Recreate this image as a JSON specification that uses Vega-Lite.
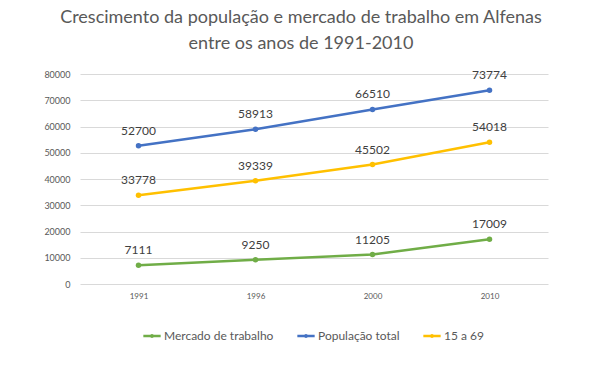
{
  "$schema": "https://vega.github.io/schema/vega-lite/v6.json",
  "width": 468,
  "height": 210,
  "autosize": "none",
  "padding": {"left": 80, "top": 74, "right": 54, "bottom": 83},
  "background": "white",
  "title": {
    "text": ["Crescimento da população e mercado de trabalho em Alfenas", "entre os anos de 1991-2010"],
    "font": "Lato",
    "fontSize": 18,
    "fontWeight": "normal",
    "color": "#595959",
    "anchor": "middle",
    "dx": -13,
    "offset": 16,
    "lineHeight": 26
  },
  "data": {
    "values": [
      {"ano": "1991", "serie": "Mercado de trabalho", "valor": 7111},
      {"ano": "1996", "serie": "Mercado de trabalho", "valor": 9250},
      {"ano": "2000", "serie": "Mercado de trabalho", "valor": 11205},
      {"ano": "2010", "serie": "Mercado de trabalho", "valor": 17009},
      {"ano": "1991", "serie": "População total", "valor": 52700},
      {"ano": "1996", "serie": "População total", "valor": 58913},
      {"ano": "2000", "serie": "População total", "valor": 66510},
      {"ano": "2010", "serie": "População total", "valor": 73774},
      {"ano": "1991", "serie": "15 a 69", "valor": 33778},
      {"ano": "1996", "serie": "15 a 69", "valor": 39339},
      {"ano": "2000", "serie": "15 a 69", "valor": 45502},
      {"ano": "2010", "serie": "15 a 69", "valor": 54018}
    ]
  },
  "encoding": {
    "x": {
      "field": "ano", "type": "ordinal",
      "scale": {"type": "point", "padding": 0.5},
      "axis": {"title": null, "labelAngle": 0, "ticks": false, "domain": false, "labelFont": "Lato", "labelFontSize": 8, "labelColor": "#595959", "labelPadding": 8}
    },
    "y": {
      "field": "valor", "type": "quantitative",
      "scale": {"domain": [0, 80000]},
      "axis": {"title": null, "values": [0,10000,20000,30000,40000,50000,60000,70000,80000], "format": "d", "ticks": false, "domain": false, "labelFont": "Lato", "labelFontSize": 9, "labelColor": "#595959", "labelPadding": 10, "gridColor": "#d9d9d9", "gridWidth": 1}
    },
    "color": {
      "field": "serie", "type": "nominal",
      "scale": {"domain": ["Mercado de trabalho", "População total", "15 a 69"], "range": ["#70AD47", "#4472C4", "#FFC000"]},
      "legend": {"title": null, "orient": "none", "direction": "horizontal", "legendX": 62, "legendY": 252, "symbolType": "M-1,0H1M-0.08,0A0.08,0.08 0 1,0 0.08,0A0.08,0.08 0 1,0 -0.08,0", "symbolStrokeWidth": 2.5, "symbolSize": 300, "labelFont": "Lato", "labelFontSize": 12, "labelColor": "#595959", "columnPadding": 18, "labelOffset": 2}
    }
  },
  "layer": [
    {"mark": {"type": "line", "strokeWidth": 2.5, "point": {"filled": true, "size": 30}}},
    {"mark": {"type": "text", "baseline": "bottom", "dy": -8, "font": "Lato", "fontSize": 12, "color": "#404040"}, "encoding": {"text": {"field": "valor", "type": "quantitative", "format": "d"}, "color": {"value": "#404040"}}}
  ],
  "config": {"view": {"stroke": null}}
}
